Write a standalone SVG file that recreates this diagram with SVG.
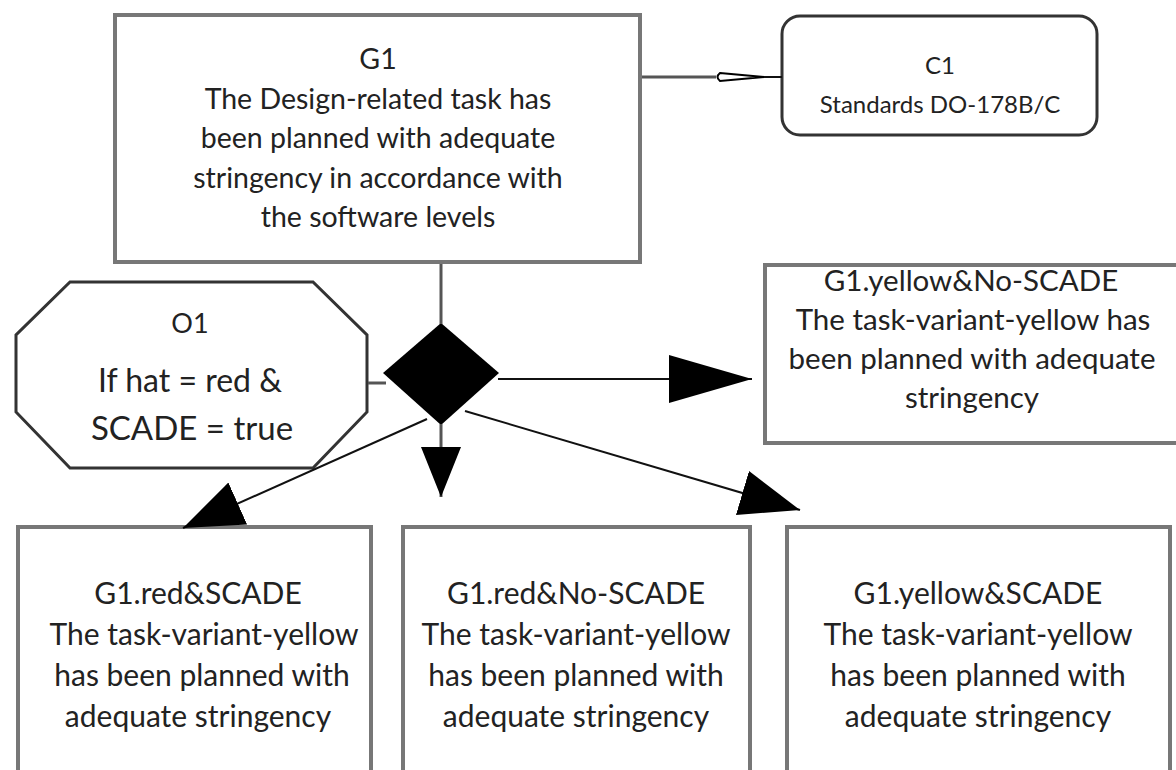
<svg xmlns="http://www.w3.org/2000/svg" width="1176" height="770" viewBox="0 0 1176 770">
<defs>
<style>
.box{fill:#fff;stroke:#777;stroke-width:4}
.t{font-family:Lato,"Open Sans","Liberation Sans",sans-serif;fill:#222;text-anchor:middle}
.s{font-size:28.5px}
.b{font-size:30px}
.c{stroke:#555;stroke-width:3;fill:none}
.d{stroke:#111;stroke-width:2;fill:none}
</style>
<marker id="big" markerUnits="userSpaceOnUse" markerWidth="90" markerHeight="52" refX="83" refY="24" orient="auto">
<path d="M0,0 L83,24 L0,48 z" fill="#000"/>
</marker>
<marker id="mid" markerUnits="userSpaceOnUse" markerWidth="66" markerHeight="50" refX="60" refY="23" orient="auto">
<path d="M0,0 L60,23 L0,46 z" fill="#000"/>
</marker>
<marker id="small" markerUnits="userSpaceOnUse" markerWidth="56" markerHeight="44" refX="50" refY="20" orient="auto">
<path d="M0,0 L50,20 L0,40 z" fill="#000"/>
</marker>
</defs>
<rect width="1176" height="770" fill="#fff"/>
<g id="G1">
<rect class="box" x="115" y="15" width="525" height="247"/>
<text class="t s" x="378" y="69">G1</text>
<text class="t s" x="378" y="109">The Design-related task has</text>
<text class="t s" x="378" y="148">been planned with adequate</text>
<text class="t s" x="378" y="188">stringency in accordance with</text>
<text class="t s" x="378" y="227">the software levels</text>
</g>
<g id="C1">
<rect class="box" x="782" y="16" width="315" height="119" rx="18" ry="18" style="stroke:#333;stroke-width:3"/>
<text class="t" style="font-size:24px" x="940" y="74">C1</text>
<text class="t" style="font-size:24px" x="940" y="113">Standards DO-178B/C</text>
</g>
<g id="O1">
<polygon class="box" points="70,282 313,282 367,335 367,412 313,468 70,468 16,412 16,335" style="stroke:#333;stroke-width:3"/>
<text class="t" style="font-size:27px" x="190" y="333">O1</text>
<text class="t" style="font-size:32px" x="190" y="392">If hat = red &amp;</text>
<text class="t" style="font-size:33px" x="192" y="440">SCADE = true</text>
</g>
<g id="junction">
<polygon points="441,323 499,373 441,425 383,373" fill="#000"/>
</g>
<g id="G1_yellow_NoSCADE">
<rect class="box" x="765" y="265" width="420" height="178"/>
<text class="t" style="font-size:29.5px" x="971" y="291">G1.yellow&amp;No-SCADE</text>
<text class="t" style="font-size:29.5px" x="973" y="330">The task-variant-yellow has</text>
<text class="t" style="font-size:29.5px" x="972" y="369">been planned with adequate</text>
<text class="t" style="font-size:29.5px" x="972" y="408">stringency</text>
</g>
<g id="G1_red_SCADE">
<rect class="box" x="18" y="527" width="353" height="260"/>
<text class="t b" x="198" y="604">G1.red&amp;SCADE</text>
<text class="t b" x="204" y="645">The task-variant-yellow</text>
<text class="t b" x="202" y="686">has been planned with</text>
<text class="t b" x="198" y="727">adequate stringency</text>
</g>
<g id="G1_red_NoSCADE">
<rect class="box" x="403" y="527" width="347" height="260"/>
<text class="t b" x="576" y="604">G1.red&amp;No-SCADE</text>
<text class="t b" x="576" y="645">The task-variant-yellow</text>
<text class="t b" x="576" y="686">has been planned with</text>
<text class="t b" x="576" y="727">adequate stringency</text>
</g>
<g id="G1_yellow_SCADE">
<rect class="box" x="787" y="527" width="383" height="260"/>
<text class="t b" x="978" y="604">G1.yellow&amp;SCADE</text>
<text class="t b" x="978" y="645">The task-variant-yellow</text>
<text class="t b" x="978" y="686">has been planned with</text>
<text class="t b" x="978" y="727">adequate stringency</text>
</g>
<g id="connectors">
<line class="c" x1="642" y1="77" x2="716" y2="77"/>
<path d="M720,73 L764,77 L720,81 Q715,77 720,73 z" fill="#fff" stroke="#000" stroke-width="2"/>
<line class="d" x1="764" y1="77" x2="782" y2="77"/>
<line class="c" x1="441" y1="264" x2="441" y2="324"/>
<line class="c" x1="368" y1="383" x2="386" y2="383"/>
<line class="d" x1="498" y1="379" x2="752" y2="379" marker-end="url(#big)"/>
<line class="c" x1="441" y1="424" x2="441" y2="497" marker-end="url(#small)"/>
<line class="d" x1="427" y1="419" x2="183" y2="528" marker-end="url(#mid)"/>
<line class="d" x1="465" y1="411" x2="800" y2="510" marker-end="url(#mid)"/>
</g>
</svg>
